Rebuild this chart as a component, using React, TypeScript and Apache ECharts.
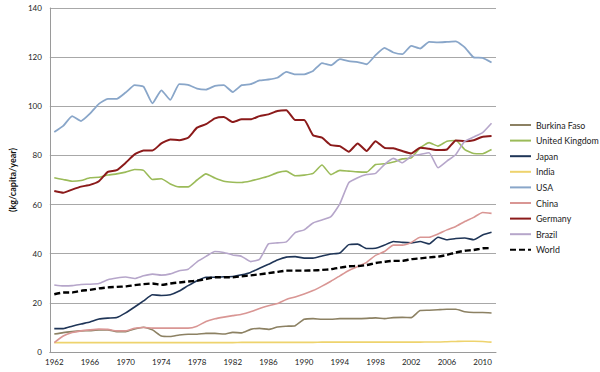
import React, { useEffect, useRef } from "react";
import * as echarts from "echarts";

const years: string[] = [
  "1962","1963","1964","1965","1966","1967","1968","1969","1970","1971",
  "1972","1973","1974","1975","1976","1977","1978","1979","1980","1981",
  "1982","1983","1984","1985","1986","1987","1988","1989","1990","1991",
  "1992","1993","1994","1995","1996","1997","1998","1999","2000","2001",
  "2002","2003","2004","2005","2006","2007","2008","2009","2010","2011",
];

const burkinaFaso = [
  7.3, 7.9, 8.3, 8.6, 8.7, 9, 9, 8.3, 8.3, 9.4,
  10.1, 9, 6.5, 6.3, 6.9, 7.2, 7.2, 7.6, 7.6, 7.3,
  8, 7.8, 9.2, 9.6, 9.2, 10.2, 10.5, 10.7, 13.3, 13.6,
  13.3, 13.3, 13.6, 13.6, 13.6, 13.7, 13.9, 13.6, 14, 14.1,
  14, 16.9, 17, 17.2, 17.4, 17.4, 16.4, 16.1, 16.1, 15.9,
];

const unitedKingdom = [
  70.9, 70.2, 69.5, 69.8, 70.9, 71.1, 72, 72.5, 73.2, 74.3,
  73.9, 70.2, 70.5, 68.4, 67.2, 67.2, 70, 72.5, 70.8, 69.5,
  69.1, 69, 69.6, 70.5, 71.5, 73, 73.6, 71.7, 72, 72.7,
  76.1, 72.2, 73.9, 73.6, 73.3, 73.2, 76.3, 76.6, 77.3, 78.6,
  79, 83.1, 85.2, 83.8, 85.8, 86.1, 82.4, 80.8, 80.7, 82.4,
];

const japan = [
  9.5, 9.5, 10.5, 11.4, 12.2, 13.4, 13.8, 14, 15.9, 18.3,
  20.8, 23.3, 23, 23.3, 24.8, 27, 29, 30.4, 30.4, 30.6,
  30.7, 31.4, 32.4, 34.1, 35.7, 37.4, 38.6, 38.8, 38.2, 38.2,
  39.1, 39.9, 40.3, 43.7, 43.9, 42.1, 42.2, 43.5, 45, 44.6,
  44.4, 45, 44, 46.7, 45.7, 46.2, 46.4, 45.7, 47.6, 48.7,
];

const india = [
  3.8, 3.8, 3.8, 3.8, 3.8, 3.8, 3.8, 3.8, 3.8, 3.8,
  3.8, 3.8, 3.8, 3.8, 3.8, 3.8, 3.8, 3.8, 3.8, 3.8,
  3.8, 3.9, 3.9, 3.9, 3.9, 3.9, 3.9, 3.9, 3.9, 3.9,
  4, 4, 4, 4, 4, 4, 4, 4, 4, 4,
  4, 4, 4.1, 4.1, 4.2, 4.3, 4.4, 4.4, 4.3, 4,
];

const usa = [
  89.5, 92, 96, 94, 97, 101, 103, 103, 105.6, 108.6,
  108, 101.2, 106.5, 102.6, 109, 108.7, 107.2, 106.8, 108.3, 108.6,
  105.8, 108.6, 109, 110.5, 110.9, 111.6, 114, 113, 113, 114.4,
  117.6, 116.7, 119.2, 118.4, 118, 117.1, 120.8, 123.8, 121.9, 121.2,
  124.6, 123.5, 126.2, 126, 126.2, 126.4, 124, 119.9, 119.7, 117.8,
];

const china = [
  3.8, 6.5, 7.9, 8.6, 9, 9.3, 9.2, 8.6, 8.6, 9.7,
  10, 9.7, 9.7, 9.7, 9.7, 9.7, 10.5, 12.4, 13.5, 14.2,
  14.8, 15.4, 16.4, 17.7, 18.8, 19.7, 21.4, 22.4, 23.6, 25,
  26.8, 28.8, 31, 33.2, 34.8, 36.5, 39.3, 40.9, 43.5, 43.5,
  44.6, 46.7, 46.7, 48, 49.7, 51.1, 53.1, 54.8, 56.8, 56.4,
];

const germany = [
  65.5, 64.8, 66.1, 67.3, 68, 69.5, 73.3, 74, 77, 80.4,
  82, 82, 84.9, 86.5, 86.2, 87.2, 91.3, 92.7, 95.1, 95.6,
  93.6, 94.7, 94.7, 96, 96.7, 98.1, 98.4, 94.4, 94.4, 88.2,
  87.2, 84.2, 83.8, 81.5, 84.9, 81.8, 85.8, 83.1, 82.9, 81.8,
  80.8, 83.1, 82.7, 82.2, 82.4, 86.1, 85.8, 86.2, 87.6, 87.9,
];

const brazil = [
  27.3, 26.9, 27, 27.5, 27.6, 27.9, 29.4, 30.1, 30.5, 29.9,
  31, 31.7, 31.3, 31.8, 33.1, 33.7, 36.7, 38.9, 40.9, 40.5,
  39.5, 38.9, 36.8, 37.7, 44, 44.4, 44.8, 48.6, 49.7, 52.5,
  53.7, 55.1, 60.3, 68.9, 70.9, 72.2, 72.7, 76.3, 78.8, 77,
  79.7, 80.4, 81.1, 75, 77.7, 80.4, 85.8, 87.5, 89.3, 93.1,
];

const world = [
  23.5, 24.2, 24.2, 24.9, 25.3, 25.9, 26.3, 26.5, 26.7, 27.2,
  27.6, 27.9, 27.3, 27.9, 28.3, 28.7, 29, 29.7, 30.4, 30.4,
  30.4, 30.8, 31.2, 31.6, 32.1, 32.6, 33.1, 33.1, 33.1, 33.2,
  33.4, 33.7, 34.3, 34.9, 35, 35.4, 36.2, 36.7, 37.1, 37.1,
  37.8, 38.1, 38.5, 38.8, 39.5, 40.5, 41.2, 41.5, 42.2, 42.3,
];

const yTicks = { min: 0, max: 140, interval: 20 };
const yAxisTitle = "(kg/capita/year)";

const seriesDefs = [
  { name: "Burkina Faso", data: burkinaFaso, color: "#8c8163", width: 1.6 },
  { name: "United Kingdom", data: unitedKingdom, color: "#9bbb59", width: 1.6 },
  { name: "Japan", data: japan, color: "#1f3557", width: 1.6 },
  { name: "India", data: india, color: "#eed36d", width: 1.6 },
  { name: "USA", data: usa, color: "#89a6c9", width: 1.8 },
  { name: "China", data: china, color: "#d99694", width: 1.6 },
  { name: "Germany", data: germany, color: "#8b1a1a", width: 2 },
  { name: "Brazil", data: brazil, color: "#b6a6ca", width: 1.6 },
  { name: "World", data: world, color: "#000000", width: 2.4, dashed: true },
];

const FONT = "Lato, 'Open Sans', sans-serif";

export default function App() {
  const ref = useRef<HTMLDivElement>(null);

  useEffect(() => {
    if (!ref.current) return;
    const chart = echarts.init(ref.current, undefined, { renderer: "svg" });
    chart.setOption({
      animation: false,
      backgroundColor: "#ffffff",
      textStyle: { fontFamily: FONT },
      grid: { left: 40, right: 104, top: 8, bottom: 20, containLabel: false },
      legend: {
        orient: "vertical",
        left: 509,
        top: 119,
        padding: 0,
        itemWidth: 21,
        itemHeight: 8,
        itemGap: 3.6,
        data: seriesDefs.map((s) => s.name),
        itemStyle: { opacity: 0, borderWidth: 0 },
        textStyle: { fontSize: 8.8, color: "#222", fontFamily: FONT, lineHeight: 12 },
      },
      xAxis: {
        type: "category",
        data: years,
        boundaryGap: true,
        axisLine: { lineStyle: { color: "#9a9a9a", width: 1 } },
        axisTick: { show: false },
        axisLabel: { interval: 3, fontSize: 8, color: "#222", margin: 6, fontFamily: FONT },
        splitLine: { show: false },
      },
      yAxis: {
        type: "value",
        min: yTicks.min,
        max: yTicks.max,
        interval: yTicks.interval,
        name: yAxisTitle,
        nameLocation: "middle",
        nameGap: 26,
        nameRotate: 90,
        nameTextStyle: { fontSize: 9, fontWeight: "bold", color: "#111", fontFamily: FONT },
        axisLine: { show: true, lineStyle: { color: "#9a9a9a", width: 1 } },
        axisTick: { show: false },
        axisLabel: { fontSize: 8, color: "#222", margin: 8, fontFamily: FONT },
        splitLine: { show: true, lineStyle: { color: "#a8a8a8", width: 1 } },
      },
      series: seriesDefs.map((s) => ({
        name: s.name,
        type: "line",
        data: s.data,
        symbol: "none",
        smooth: 0.15,
        color: s.color,
        lineStyle: {
          color: s.color,
          width: s.width,
          type: s.dashed ? [6, 3] : "solid",
        },
        z: s.dashed ? 5 : 2,
      })),
    });
    return () => chart.dispose();
  }, []);

  return (
    <div
      ref={ref}
      style={{ position: "absolute", left: 0, top: 0, width: 600, height: 372 }}
    />
  );
}
